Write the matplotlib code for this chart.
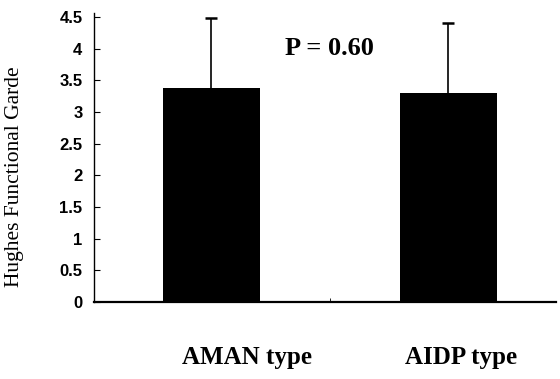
import numpy as np
import matplotlib
matplotlib.use('Agg')
import matplotlib.pyplot as plt

# data
groups = ['AMAN type', 'AIDP type']
means = [3.38, 3.30]
sds = [1.11, 1.11]
yticks = [0, 0.5, 1, 1.5, 2, 2.5, 3, 3.5, 4, 4.5]
ytick_labels = ['0', '0.5', '1', '1.5', '2', '2.5', '3', '3.5', '4', '4.5']
p_text = 'P = 0.60'

fig = plt.figure(figsize=(5.6, 3.79), dpi=100)
ax = fig.add_axes([0.167, 0.203, 0.826, 0.762])

x = np.arange(len(groups))
means = np.array(means)
sds = np.array(sds)
ax.bar(x, means, width=0.41, color='black', zorder=2)
# only the upper half of the error bar is drawn
ax.vlines(x, means, means + sds, color='black', lw=1.2, zorder=1)
ax.plot(x, means + sds, ls='none', marker='_', ms=9, mew=1.8, color='black')

ax.set_xlim(-0.4975, 1.4545)
ax.set_ylim(0, 4.56)
ax.set_yticks(yticks)
ax.set_yticklabels(ytick_labels, family='Liberation Sans',
                   fontweight='bold', fontsize=12)
ax.set_xticks([0.5], minor=True)
ax.tick_params(axis='x', which='minor', length=3, direction='in')
ax.set_xticks(x)
ax.set_xticklabels([])
ax.tick_params(axis='x', which='major', length=0)
ax.tick_params(axis='y', length=4, width=0.8, direction='in', pad=8)

# the group labels sit a little to the right of the bars in the original
label_x = [0.15, 1.052]
for lx, g in zip(label_x, groups):
    ax.text(lx, -0.193, g, transform=ax.get_xaxis_transform(),
            family='Liberation Serif', fontweight='bold', fontsize=18,
            ha='center', va='center')

ax.spines['top'].set_visible(False)
ax.spines['right'].set_visible(False)
ax.spines['bottom'].set_linewidth(1.6)
ax.spines['left'].set_linewidth(1.0)

ax.set_ylabel('Hughes Functional Garde', family='Liberation Serif', fontsize=15.5)
ax.yaxis.set_label_coords(-0.15, 0.435)
ax.text(0.5, 4.0, p_text, family='Liberation Serif', fontweight='bold',
        fontsize=19, ha='center', va='center')

fig.savefig('out.png', dpi=100)
